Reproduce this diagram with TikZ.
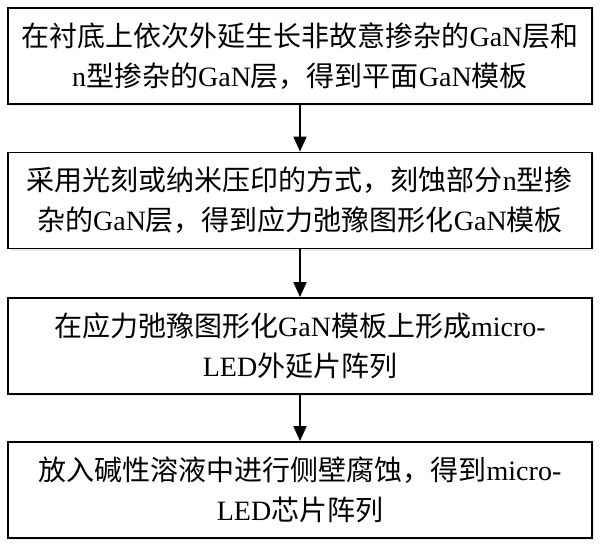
\documentclass[tikz,border=0pt]{standalone}
\usepackage{fontspec}
\setmainfont{Liberation Serif}
\newfontfamily\cjk{Noto Sans CJK SC}
\usetikzlibrary{arrows.meta,shadows}
\newcommand\zh[1]{{\cjk #1}}
\begin{document}
\begin{tikzpicture}[x=1pt,y=-1pt,
  stepbox/.style={draw, line width=1.8pt, fill=white, minimum width=584pt, minimum height=96pt,
    align=center, font=\fontsize{28}{40}\selectfont, inner sep=0pt,
    drop shadow={shadow xshift=1.5pt, shadow yshift=-2pt, fill=blue!25, opacity=0.35}},
  flow/.style={line width=1.5pt, -{Triangle[width=13pt,length=15pt]}}]
\useasboundingbox (0,0) rectangle (600,547);
\node[stepbox] (s1) at (300,56) {\zh{在衬底上依次外延生长非故意掺杂的}GaN\zh{层和}\\n\zh{型掺杂的}GaN\zh{层，得到平面}GaN\zh{模板}};
\node[stepbox] (s2) at (300,200.5) {\zh{采用光刻或纳米压印的方式，刻蚀部分}n\zh{型掺}\\\zh{杂的}GaN\zh{层，得到应力弛豫图形化}GaN\zh{模板}};
\node[stepbox] (s3) at (300,346) {\zh{在应力弛豫图形化}GaN\zh{模板上形成}micro-\\LED\zh{外延片阵列}};
\node[stepbox] (s4) at (300,490) {\zh{放入碱性溶液中进行侧壁腐蚀，得到}micro-\\LED\zh{芯片阵列}};
\draw[flow] (s1) -- (s2);
\draw[flow] (s2) -- (s3);
\draw[flow] (s3) -- (s4);
\end{tikzpicture}
\end{document}
